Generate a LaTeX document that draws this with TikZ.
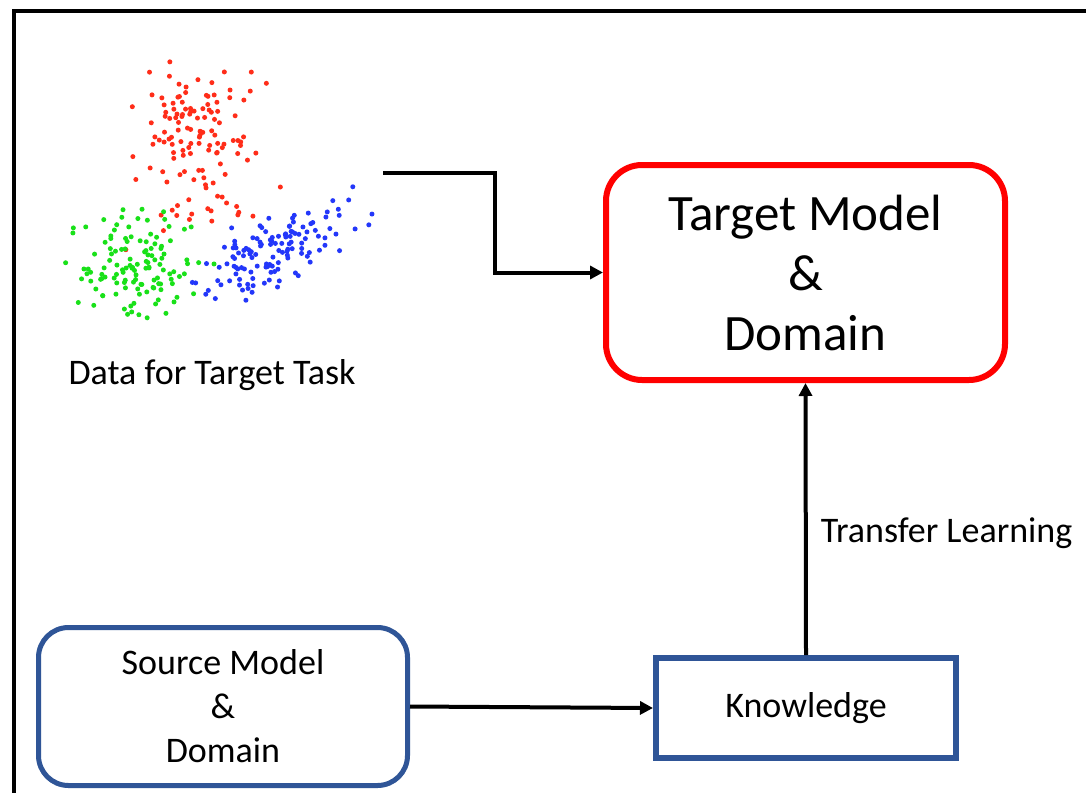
\documentclass[tikz,border=0pt]{standalone}
\usepackage{fontspec}
\setmainfont{Carlito}
\usetikzlibrary{arrows.meta}
\definecolor{tgtred}{RGB}{255,0,0}
\definecolor{srcblue}{RGB}{47,85,151}
\definecolor{ptred}{RGB}{255,45,25}
\definecolor{ptgreen}{RGB}{25,225,25}
\definecolor{ptblue}{RGB}{35,55,250}
\tikzset{
  conn/.style={line width=4, -{Triangle[length=13,width=13]}},
  targetbox/.style={draw=tgtred, line width=6, rounded corners=36, minimum width=399, minimum height=215, align=center, inner sep=0,
    font=\fontsize{51}{60}\selectfont},
  sourcebox/.style={draw=srcblue, line width=5, rounded corners=30, minimum width=369, minimum height=158, align=center, inner sep=0,
    font=\fontsize{36}{44}\selectfont},
  knowbox/.style={draw=srcblue, line width=6, minimum width=300, minimum height=100, inner sep=0,
    font=\fontsize{36}{40}\selectfont},
  caption/.style={inner sep=0, font=\fontsize{36}{40}\selectfont},
  dot/.style={radius=2.5}
}
\begin{document}
\begin{tikzpicture}[x=1pt, y=-1pt]
\useasboundingbox (0,0) rectangle (1086,792);
\fill[white] (0,0) rectangle (1086,792);

% outer frame (runs off the right and bottom edges)
\draw[line width=3.6] (14,800) -- (14,11) -- (1100,11);

% scatter plot of the three classes
\pgfmathsetseed{2718}
% red class: dense core and a looser lower tail
\foreach \k in {1,...,95}{
  \pgfmathsetmacro\ux{rand+rand+rand}
  \pgfmathsetmacro\uy{rand+rand+rand}
  \fill[ptred] (200+29*\ux, 122+27*\uy) circle[dot];
}
\foreach \k in {1,...,35}{
  \pgfmathsetmacro\ux{rand+rand+rand}
  \pgfmathsetmacro\uy{rand+rand+rand}
  \fill[ptred] (205+34*\ux, 195+25*\uy) circle[dot];
}
% green class
\foreach \k in {1,...,125}{
  \pgfmathsetmacro\ux{rand+rand+rand}
  \pgfmathsetmacro\uy{rand+rand+rand}
  \fill[ptgreen] (135+30*\ux, 265+23*\uy) circle[dot];
}
% blue class, stretched along a rising diagonal
\foreach \k in {1,...,130}{
  \pgfmathsetmacro\uu{rand+rand+rand}
  \pgfmathsetmacro\vv{rand+rand+rand}
  \fill[ptblue] (276+0.9*44*\uu+0.43*15*\vv, 252-0.43*44*\uu+0.9*15*\vv) circle[dot];
}

% nodes
\node[caption, anchor=base] (data) at (212,384) {Data for Target Task};
\node[targetbox] (tgt) at (805.5,272.5) {Target Model\\\&\\Domain};
\node[sourcebox] (src) at (223,706.5) {Source Model\\\&\\Domain};
\node[knowbox] (know) at (806,708) {Knowledge};
\coordinate (dstart) at (383,173);

% connectors
\draw[conn] (dstart) -- ++(112,0) |- (tgt.west);
\draw[conn] (src.east) -- (know.west);
\draw[conn] (know.north) -- (tgt.south)
  node[pos=0.5, anchor=base west, xshift=13, yshift=-23, inner sep=0, font=\fontsize{36}{40}\selectfont] (tl) {Transfer Learning};
\end{tikzpicture}
\end{document}
